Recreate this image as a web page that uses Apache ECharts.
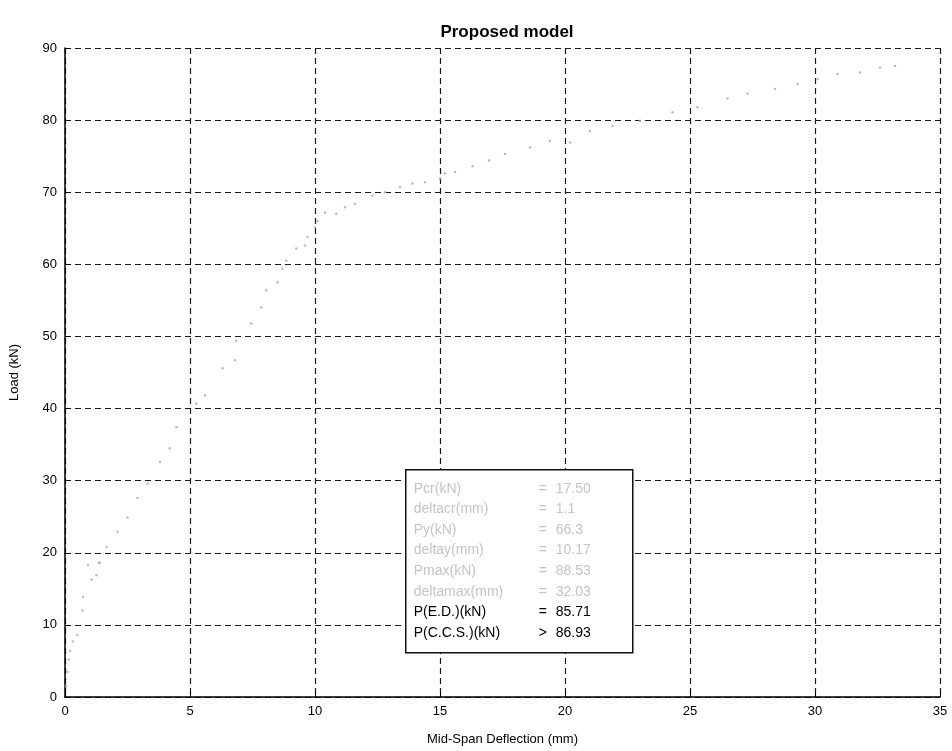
<!DOCTYPE html>
<html>
<head>
<meta charset="utf-8">
<script src="https://cdn.jsdelivr.net/npm/echarts@6/dist/echarts.min.js"></script>
<style>
  html, body { margin: 0; padding: 0; background: #ffffff; }
  #chart { width: 952px; height: 751px; }
</style>
</head>
<body>
<div id="chart"></div>
<script>
// Load–deflection response of the proposed model
var deflection = [
  0.05, 0.1, 0.15, 0.2, 0.31, 0.49, 0.7, 0.72, 0.92, 1.06, 1.26, 1.35,
  1.4, 1.66, 2.1, 2.5, 2.9, 3.3, 3.8, 4.19, 4.46, 5.25, 5.6,
  6.3, 6.8, 6.85, 7.45, 7.85, 8.05, 8.5, 8.7, 8.85, 9.25, 9.6, 9.7,
  10.0, 10.1, 10.4, 10.85, 11.2, 11.6, 12.3, 12.8, 13.4, 13.9, 14.4,
  15.0, 15.2, 15.6, 16.3, 16.96, 17.6, 18.6, 19.4, 20.2, 21.0, 21.9,
  23.0, 24.3, 25.3, 26.5, 27.3, 28.4, 29.3, 30.1, 30.9, 31.8, 32.6, 33.2
];
var load = [
  1.5, 3.5, 5.2, 6.4, 7.7, 8.6, 12.0, 13.9, 18.3, 16.3, 16.9, 18.6,
  18.6, 20.8, 22.9, 24.9, 27.6, 29.6, 32.6, 34.5, 37.4, 40.7, 41.8,
  45.6, 46.7, 49.4, 51.8, 54.0, 56.4, 57.5, 59.4, 60.5, 62.2, 62.6, 63.8,
  65.1, 66.0, 67.2, 67.0, 67.9, 68.4, 69.5, 70.0, 70.7, 71.2, 71.4,
  71.9, 72.6, 72.8, 73.6, 74.4, 75.3, 76.2, 77.1, 76.9, 78.5, 79.2,
  79.9, 81.1, 81.8, 83.0, 83.7, 84.3, 85.0, 85.7, 86.4, 86.6, 87.3, 87.5
];
var xTicks = [0, 5, 10, 15, 20, 25, 30, 35];
var yTicks = [0, 10, 20, 30, 40, 50, 60, 70, 80, 90];

// Summary values listed in the results box
var resultLabels = ['Pcr(kN)', 'deltacr(mm)', 'Py(kN)', 'deltay(mm)', 'Pmax(kN)', 'deltamax(mm)', 'P(E.D.)(kN)', 'P(C.C.S.)(kN)'];
var resultSigns  = ['=', '=', '=', '=', '=', '=', '=', '>'];
var resultValues = ['17.50', '1.1', '66.3', '10.17', '88.53', '32.03', '85.71', '86.93'];
var resultFaded  = [true, true, true, true, true, true, false, false];

var points = deflection.map(function (d, i) { return [d, load[i]]; });

var font = '"Liberation Sans", Arial, sans-serif';
var gridStyle = { type: [6, 4], color: '#1a1a1a', width: 1.2 };

// Results box drawn as a graphic group on top of the grid
var boxChildren = [{
  type: 'rect',
  z: 100,
  shape: { x: 0, y: 0, width: 227, height: 183 },
  style: { fill: '#ffffff', stroke: '#111111', lineWidth: 1.5 }
}];
resultLabels.forEach(function (lab, i) {
  var col = resultFaded[i] ? '#c4c4c4' : '#000000';
  var y = 12 + i * 20.6;
  var f = '14px ' + font;
  boxChildren.push({ type: 'text', z: 101, x: 8, y: y,
    style: { text: lab, fill: col, font: f } });
  boxChildren.push({ type: 'text', z: 101, x: 133, y: y,
    style: { text: resultSigns[i], fill: col, font: f } });
  boxChildren.push({ type: 'text', z: 101, x: 150, y: y,
    style: { text: resultValues[i], fill: col, font: f } });
});

var chart = echarts.init(document.getElementById('chart'), null, { renderer: 'canvas' });
chart.setOption({
  backgroundColor: '#ffffff',
  animation: false,
  title: {
    text: 'Proposed model',
    left: 502, top: 19, textAlign: 'center',
    textStyle: { fontFamily: font, fontSize: 17, fontWeight: 'bold', color: '#000' }
  },
  grid: { left: 65, right: 12, top: 48, bottom: 54 },
  xAxis: {
    type: 'value', min: xTicks[0], max: xTicks[xTicks.length - 1], interval: 5,
    name: 'Mid-Span Deflection (mm)', nameLocation: 'middle', nameGap: 36,
    nameTextStyle: { fontFamily: font, fontSize: 13, color: '#000' },
    axisLine: { show: true, lineStyle: { color: '#000', width: 1.5 } },
    axisTick: { show: true, inside: true, length: 5, lineStyle: { color: '#000' } },
    axisLabel: { fontFamily: font, fontSize: 13, color: '#000', margin: 8 },
    splitLine: { show: true, lineStyle: gridStyle }
  },
  yAxis: {
    type: 'value', min: yTicks[0], max: yTicks[yTicks.length - 1], interval: 10,
    name: 'Load (kN)', nameLocation: 'middle', nameGap: 44,
    nameTextStyle: { fontFamily: font, fontSize: 13, color: '#000' },
    axisLine: { show: true, lineStyle: { color: '#000', width: 1.5 } },
    axisTick: { show: true, inside: true, length: 5, lineStyle: { color: '#000' } },
    axisLabel: { fontFamily: font, fontSize: 13, color: '#000', margin: 8 },
    splitLine: { show: true, lineStyle: gridStyle }
  },
  series: [{
    type: 'scatter',
    data: points,
    symbol: 'circle',
    symbolSize: 2.5,
    itemStyle: { color: '#aaaaaa' },
    z: 3
  }],
  graphic: [{
    type: 'group',
    left: 405, top: 469,
    z: 100,
    children: boxChildren
  }]
});
</script>
</body>
</html>
